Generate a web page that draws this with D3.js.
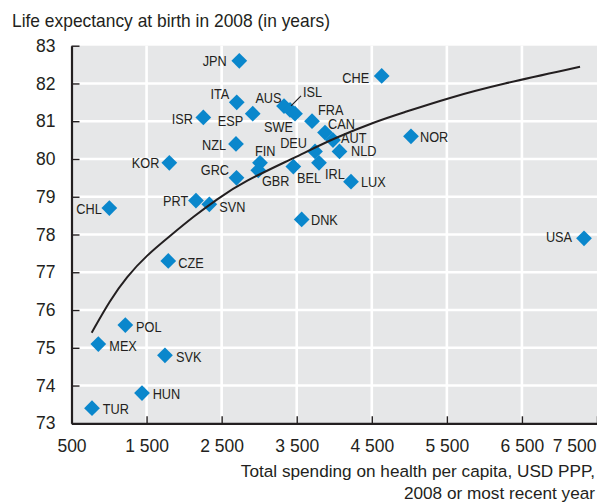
<!DOCTYPE html>
<html>
<head>
<meta charset="utf-8">
<script src="https://cdn.jsdelivr.net/npm/d3@7"></script>
<style>
  body { margin: 0; background: #fff; }
  svg { display: block; font-family: "Liberation Sans", Arial, sans-serif; }
  .bg { fill: #e6e7e8; }
  .grid { stroke: #fff; stroke-width: 2.6; }
  .axis .domain { stroke: #231f20; stroke-width: 2.2; }
  .axis .tick line { stroke: #231f20; stroke-width: 1.4; }
  .axis text { fill: #231f20; font-size: 17.5px; font-family: "Liberation Sans", Arial, sans-serif; }
  .pt { fill: #0a87cc; }
  .lbl { fill: #231f20; font-size: 15.5px; }
  .trend { fill: none; stroke: #231f20; stroke-width: 2; }
  .leader { stroke: #231f20; stroke-width: 1.2; }
  .title { fill: #231f20; font-size: 19px; }
  .xlab { fill: #231f20; font-size: 17.2px; }
</style>
</head>
<body>
<div id="chart"></div>
<script>
// OECD countries, 2008: health spending per capita (USD PPP) and life expectancy
var countries = ["JPN","CHE","ITA","AUS","ISL","SWE","ESP","ISR","FRA","CAN","AUT","NLD","DEU","IRL","BEL",
                 "NZL","FIN","GBR","GRC","LUX","NOR","DNK","USA","KOR","CHL","PRT","SVN","CZE","POL","MEX",
                 "SVK","HUN","TUR"];
var spending  = [2735,4632,2701,3331,3411,3477,2914,2256,3704,3877,3983,4070,3744,3797,3455,
                 2691,3011,2988,2698,4223,5022,3566,7327,1803,1004,2158,2336,1789,1217,857,
                 1745,1439,773];
var lifeExp   = [82.6,82.2,81.5,81.4,81.3,81.2,81.2,81.1,81.0,80.7,80.5,80.2,80.2,79.9,79.8,
                 80.4,79.9,79.7,79.5,79.4,80.6,78.4,77.9,79.9,78.7,78.9,78.8,77.3,75.6,75.1,
                 74.8,73.8,73.4];

// trend line
var trendX = [769,1013,1235,1502,1812,2122,2434,2789,3500,3993,4609,4876,5542,6208,7274];
var trendY = [75.40,76.26,76.88,77.45,77.96,78.47,78.93,79.40,80.06,80.55,81.03,81.20,81.63,81.98,82.44];

var xTicks = [500,1500,2500,3500,4500,5500,6500,7500];
var yTicks = [73,74,75,76,77,78,79,80,81,82,83];

// label placement: [anchor, dx, dy] relative to the marker
var labelPos = {
  JPN:["end",-12.5,0], CHE:["end",-12.5,1], ITA:["end",-7.5,-8.5], AUS:["end",-2.5,-9],
  ISL:["start",13,-18.5], SWE:["end",-2,12.5], ESP:["end",-9.5,6.5], ISR:["end",-10.5,0.5],
  FRA:["start",6,-11.5], CAN:["start",3,-9.5], AUT:["start",8,-2.5], NLD:["start",11.5,-1],
  DEU:["end",-8,-9.5], IRL:["start",6,10.5], BEL:["start",3.7,11], NZL:["end",-10,0.5],
  FIN:["start",-5,-12], GBR:["start",3.7,10], GRC:["end",-7.5,-8.5], LUX:["start",10,0],
  NOR:["start",9,0], DNK:["start",9.3,0], USA:["end",-12,-2], KOR:["end",-10,0],
  CHL:["end",-7.6,0.5], PRT:["end",-7.7,0], SVN:["start",10,2.4], CZE:["start",10,1],
  POL:["start",10.7,1], MEX:["start",11,1.4], SVK:["start",11,1], HUN:["start",10.7,0],
  TUR:["start",10.7,0]
};

var W = 597, H = 504;
var plotL = 71.5, plotR = 597, plotT = 45.7, plotB = 423.3;

// narrow the sans font to look like the condensed face of the original
function squeeze(sel, k) {
  sel.each(function() {
    var w = this.getComputedTextLength();
    d3.select(this)
      .attr("textLength", w * k)
      .attr("lengthAdjust", "spacingAndGlyphs");
  });
}

var svg = d3.select("#chart").append("svg")
  .attr("width", W)
  .attr("height", H);

var x = d3.scaleLinear().domain([500, 7500]).range([plotL, plotR]),
    y = d3.scaleLinear().domain([73, 83]).range([plotB, plotT]);

var fmt = d3.formatLocale({decimal: ".", thousands: " ", grouping: [3], currency: ["", ""]}).format(",");

svg.append("rect")
  .attr("class", "bg")
  .attr("x", plotL).attr("y", plotT)
  .attr("width", plotR - plotL).attr("height", plotB - plotT);

svg.selectAll(".hgrid")
  .data(yTicks.slice(1, -1))
  .enter().append("line")
    .attr("class", "grid")
    .attr("x1", plotL).attr("x2", plotR)
    .attr("y1", d => y(d)).attr("y2", d => y(d));

svg.selectAll(".vgrid")
  .data(xTicks.slice(1, -1))
  .enter().append("line")
    .attr("class", "grid")
    .attr("x1", d => x(d)).attr("x2", d => x(d))
    .attr("y1", plotT).attr("y2", plotB);

var yAxis = svg.append("g")
  .attr("class", "axis")
  .attr("transform", `translate(${plotL},0)`)
  .call(d3.axisLeft(y).tickValues(yTicks).tickSize(-8).tickSizeOuter(0).tickPadding(16));

var xAxis = svg.append("g")
  .attr("class", "axis")
  .attr("transform", `translate(0,${plotB})`)
  .call(d3.axisBottom(x).tickValues(xTicks).tickFormat(fmt).tickSize(-7).tickSizeOuter(0).tickPadding(16.5));

xAxis.selectAll(".tick")
  .filter(d => d === 7500)
  .select("text")
    .attr("text-anchor", "end")
    .attr("x", plotR - x(7500) - 1);

// markers
var pts = countries.map((c, i) => ({code: c, sx: spending[i], le: lifeExp[i]}));

svg.selectAll(".pt")
  .data(pts)
  .enter().append("path")
    .attr("class", "pt")
    .attr("transform", d => `translate(${x(d.sx)},${y(d.le)}) rotate(45)`)
    .attr("d", d3.symbol(d3.symbolSquare, 124));

var isl = pts.find(d => d.code === "ISL");
svg.append("line")
  .attr("class", "leader")
  .attr("x1", x(isl.sx) + 1).attr("y1", y(isl.le) - 4)
  .attr("x2", x(isl.sx) + 11).attr("y2", y(isl.le) - 14);

svg.selectAll(".lbl")
  .data(pts)
  .enter().append("text")
    .attr("class", "lbl")
    .attr("text-anchor", d => labelPos[d.code][0])
    .attr("x", d => x(d.sx) + labelPos[d.code][1])
    .attr("y", d => y(d.le) + labelPos[d.code][2] + 5.6)
    .text(d => d.code)
    .call(squeeze, 0.82);

// fitted curve
var line = d3.line()
  .x(d => x(d[0]))
  .y(d => y(d[1]))
  .curve(d3.curveBasis);

svg.append("path")
  .attr("class", "trend")
  .datum(trendX.map((v, i) => [v, trendY[i]]))
  .attr("d", line);

svg.append("text")
  .attr("class", "title")
  .attr("x", 12).attr("y", 27)
  .text("Life expectancy at birth in 2008 (in years)")
  .call(squeeze, 0.915);

svg.append("text")
  .attr("class", "xlab")
  .attr("text-anchor", "end")
  .attr("x", 595).attr("y", 477)
  .text("Total spending on health per capita, USD PPP,");

svg.append("text")
  .attr("class", "xlab")
  .attr("text-anchor", "end")
  .attr("x", 595).attr("y", 499)
  .text("2008 or most recent year");
</script>
</body>
</html>
